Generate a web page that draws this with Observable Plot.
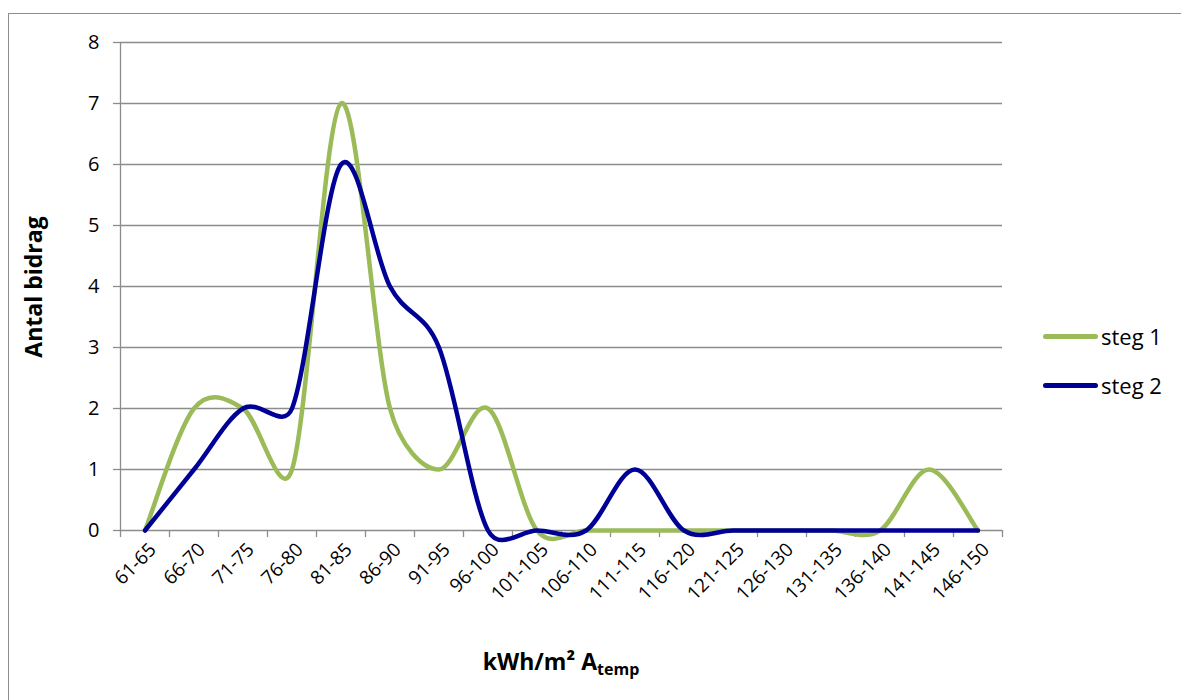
<!DOCTYPE html>
<html><head><meta charset="utf-8">
<script src="https://cdn.jsdelivr.net/npm/d3@7"></script>
<script src="https://cdn.jsdelivr.net/npm/@observablehq/plot@0.6"></script>
<style>
body{margin:0;background:#fff;}
#wrap{position:relative;width:1181px;height:700px;overflow:hidden;font-family:"Open Sans",sans-serif;color:#000;}
#border{position:absolute;left:8px;top:13px;width:1300px;height:800px;border-left:1.5px solid #8c8c8c;border-top:1.5px solid #8c8c8c;}
#chart{position:absolute;left:0;top:0;}
#chart svg g[aria-label="x-axis tick label"] text{font-size:19px;}
#chart svg g[aria-label="y-axis tick label"] text{font-size:20px;}
#ytitle{position:absolute;left:33px;top:287px;transform:translate(-50%,-50%) rotate(-90deg);font-weight:bold;font-size:23px;white-space:nowrap;}
#xtitle{position:absolute;left:561px;top:662px;transform:translate(-50%,-50%);font-weight:bold;font-size:23px;white-space:nowrap;}
#xtitle sub{font-size:16px;vertical-align:-5px;}
.leg{position:absolute;left:1043px;font-size:22px;white-space:nowrap;display:flex;align-items:center;}
.leg span.sw{display:inline-block;width:55px;height:5px;border-radius:3px;margin-right:3px;}
</style>
</head><body>
<div id="wrap">
<div id="border"></div>
<div id="chart"></div>
<div id="ytitle">Antal bidrag</div>
<div id="xtitle">kWh/m² A<sub>temp</sub></div>
<div id="legend"></div>
</div>
<script>
const categories = ["61-65","66-70","71-75","76-80","81-85","86-90","91-95","96-100","101-105","106-110","111-115","116-120","121-125","126-130","131-135","136-140","141-145","146-150"];
const steg1 = [0,2,2,1,7,2,1,2,0,0,0,0,0,0,0,0,1,0];
const steg2 = [0,1,2,2,6,4,3,0,0,0,1,0,0,0,0,0,0,0];
const seriesNames = ["steg 1","steg 2"];
const seriesColors = ["#9bbb59","#000096"];
const yTicks = [0,1,2,3,4,5,6,7,8];

const data = [];
categories.forEach((c,i)=>{
  data.push({cat:c, v:steg1[i], s:seriesNames[0]});
  data.push({cat:c, v:steg2[i], s:seriesNames[1]});
});

// Spreadsheet-style smoothed line (Bezier with limited control arms)
function smoothCurve(context){
  let pts;
  const dist=(a,b)=>Math.hypot(a[0]-b[0],a[1]-b[1]);
  return {
    areaStart(){}, areaEnd(){},
    lineStart(){ pts=[]; },
    point(x,y){ pts.push([+x,+y]); },
    lineEnd(){
      const n=pts.length; if(!n) return;
      context.moveTo(pts[0][0],pts[0][1]);
      for(let i=0;i<n-1;i++){
        const p0=pts[Math.max(i-1,0)], p1=pts[i], p2=pts[i+1], p3=pts[Math.min(i+2,n-1)];
        const d12=dist(p1,p2), d02=dist(p0,p2), d13=dist(p1,p3);
        let f1=1/6, f2=1/6;
        if(d02>0 && d02/6>d12/2) f1=d12/(2*d02);
        if(d13>0 && d13/6>d12/2) f2=d12/(2*d13);
        context.bezierCurveTo(
          p1[0]+f1*(p2[0]-p0[0]), p1[1]+f1*(p2[1]-p0[1]),
          p2[0]-f2*(p3[0]-p1[0]), p2[1]-f2*(p3[1]-p1[1]),
          p2[0], p2[1]);
      }
    }
  };
}

const W=1181, H=700, mL=120, mR=179, mT=42, mB=170;
const step=(W-mL-mR)/categories.length;
const grey="#8c8c8c";
const font='"Open Sans",sans-serif';

const plot = Plot.plot({
  width:W, height:H, marginLeft:mL, marginRight:mR, marginTop:mT, marginBottom:mB,
  style:{fontFamily:font, fontSize:"20px", color:"#000", background:"transparent"},
  x:{type:"band", domain:categories, padding:0, axis:null},
  y:{domain:[0,8], axis:null},
  color:{domain:seriesNames, range:seriesColors},
  marks:[
    Plot.gridY(yTicks,{stroke:grey, strokeOpacity:1, strokeWidth:1.3}),
    Plot.ruleX([categories[0]],{y1:0,y2:8,stroke:grey,strokeWidth:1.3,dx:-step/2}),
    Plot.axisY({ticks:yTicks, tickSize:7, tickPadding:14, stroke:grey, strokeWidth:1.3, tickFormat:d=>d, label:null}),
    Plot.axisX({tickSize:7, stroke:grey, strokeWidth:1.3, text:null, dx:-step/2, label:null}),
    Plot.axisX({ticks:[categories[categories.length-1]], tickSize:7, stroke:grey, strokeWidth:1.3, text:null, dx:step/2, label:null}),
    Plot.axisX({tickSize:0, tickRotate:-45, tickPadding:16, label:null, dx:8}),
    Plot.line(data,{x:"cat", y:"v", z:"s", stroke:"s", curve:smoothCurve, strokeWidth:4.5, strokeLinejoin:"round", strokeLinecap:"round"})
  ]
});
document.getElementById("chart").appendChild(plot);

const leg=document.getElementById("legend");
const legY=[336,385];
seriesNames.forEach((n,i)=>{
  const d=document.createElement("div");
  d.className="leg";
  d.style.top=(legY[i]-15)+"px";
  d.style.height="30px";
  d.innerHTML=`<span class="sw" style="background:${seriesColors[i]}"></span>${n}`;
  leg.appendChild(d);
});
</script>
</body></html>
